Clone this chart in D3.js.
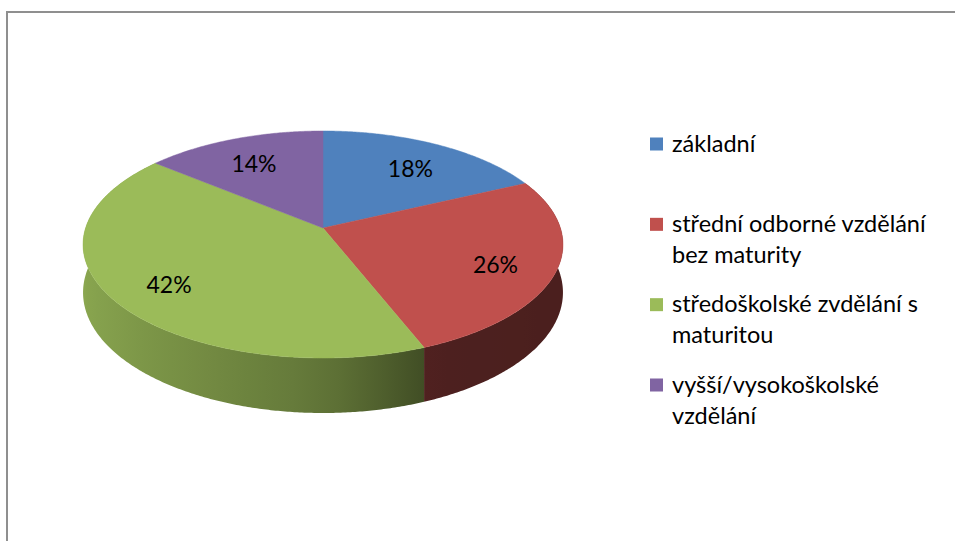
<!DOCTYPE html>
<html lang="cs">
<head>
    <meta charset="UTF-8">
    <title>Vzdělání</title>
    <script src="https://d3js.org/d3.v7.min.js"></script>
    <style>
        body {
            margin: 0;
            overflow: hidden;
            background: #fff;
        }
        text {
            font-family: Lato, "Open Sans", sans-serif;
            fill: #000;
        }
    </style>
</head>
<body>
    <script>
        const categories = ["základní", "střední odborné vzdělání bez maturity", "středoškolské zvdělání s maturitou", "vyšší/vysokoškolské vzdělání"];
        const legendLines = [["základní"], ["střední odborné vzdělání", "bez maturity"], ["středoškolské zvdělání s", "maturitou"], ["vyšší/vysokoškolské", "vzdělání"]];
        const values = [18, 26, 42, 14];
        const colors = ["#4f81bd", "#c0504d", "#9bbb59", "#8064a2"];

        const width = 955;
        const height = 541;

        const svg = d3.select("body").append("svg")
            .attr("width", width)
            .attr("height", height);

        const defs = svg.append("defs");

        // chart frame
        svg.append("rect")
            .attr("x", 7)
            .attr("y", 12)
            .attr("width", width + 10)
            .attr("height", height + 10)
            .attr("fill", "none")
            .attr("stroke", "#8f8f8f")
            .attr("stroke-width", 2);

        // perspective pie geometry
        const cx = 323, cy = 228;
        const rx = 237.4, ry = 111.1, persp = 0.1454, thick = 47;

        function proj(theta, r, depth) {
            const X = r * Math.sin(theta), Z = -r * Math.cos(theta);
            const s = 1 / (1 - persp * Z);
            return [cx + rx * X * s, cy + ry * Z * s + depth * thick * s];
        }

        const pie = d3.pie().sort(null).value(d => d)(values);
        const line = d3.line();

        function arcPoints(a0, a1, depth) {
            const n = Math.max(2, Math.ceil(Math.abs(a1 - a0) / (Math.PI / 360)));
            return d3.range(n + 1).map(j => proj(a0 + (a1 - a0) * j / n, 1, depth));
        }

        // shading of the side wall by normal direction (x component)
        const shade = d3.scaleLinear().domain([-1, 0, 0.4, 1]).range([0.89, 0.63, 0.40, 0.39]).clamp(true);
        function sideColor(i, theta) {
            const c = d3.rgb(colors[i]);
            const b = shade(Math.sin(theta));
            return d3.rgb(c.r * b, c.g * b, c.b * b).formatHex();
        }

        // side walls (front half only is visible, top faces cover the rest)
        const front = pie.filter(p => p.endAngle > Math.PI / 2 && p.startAngle < Math.PI * 1.5);
        front.forEach(p => {
            const i = p.index;
            const a0 = Math.max(p.startAngle, Math.PI / 2);
            const a1 = Math.min(p.endAngle, Math.PI * 1.5);
            const x0 = proj(a1, 1, 0)[0], x1 = proj(a0, 1, 0)[0];
            const grad = defs.append("linearGradient")
                .attr("id", "side" + i)
                .attr("gradientUnits", "userSpaceOnUse")
                .attr("x1", x0).attr("x2", x1)
                .attr("y1", 0).attr("y2", 0);
            const steps = 12;
            d3.range(steps + 1).forEach(j => {
                const a = a1 - (a1 - a0) * j / steps;
                const x = proj(a, 1, 0)[0];
                grad.append("stop")
                    .attr("offset", (x - x0) / (x1 - x0))
                    .attr("stop-color", sideColor(i, a));
            });
            const pts = arcPoints(p.startAngle, p.endAngle, 0)
                .concat(arcPoints(p.endAngle, p.startAngle, 1));
            svg.append("path")
                .attr("d", line(pts) + "Z")
                .attr("fill", `url(#side${i})`);
        });

        // top faces
        svg.append("g")
            .selectAll("path")
            .data(pie)
            .join("path")
            .attr("d", p => line([[cx, cy]].concat(arcPoints(p.startAngle, p.endAngle, 0))) + "Z")
            .attr("fill", p => colors[p.index])
            .attr("stroke", p => colors[p.index])
            .attr("stroke-width", 0.5);

        // data labels
        svg.append("g")
            .selectAll("text")
            .data(pie)
            .join("text")
            .attr("x", p => proj((p.startAngle + p.endAngle) / 2, 0.75, 0)[0])
            .attr("y", p => proj((p.startAngle + p.endAngle) / 2, 0.75, 0)[1] + 5)
            .attr("dy", "0.35em")
            .attr("text-anchor", "middle")
            .attr("font-size", 23)
            .text(p => p.value + "%");

        // legend
        const legendY = d3.scalePoint().domain(d3.range(categories.length)).range([144, 385]);
        const legend = svg.append("g")
            .selectAll("g")
            .data(categories)
            .join("g")
            .attr("transform", (d, i) => `translate(650,${legendY(i)})`);

        legend.append("rect")
            .attr("x", 0)
            .attr("y", -6.5)
            .attr("width", 13)
            .attr("height", 13)
            .attr("fill", (d, i) => colors[i]);

        legend.append("text")
            .attr("x", 22)
            .attr("y", 7.5)
            .attr("font-size", 23.5)
            .selectAll("tspan")
            .data((d, i) => legendLines[i])
            .join("tspan")
            .attr("x", 22)
            .attr("dy", (d, j) => j === 0 ? 0 : 31)
            .text(d => d);
    </script>
</body>
</html>
